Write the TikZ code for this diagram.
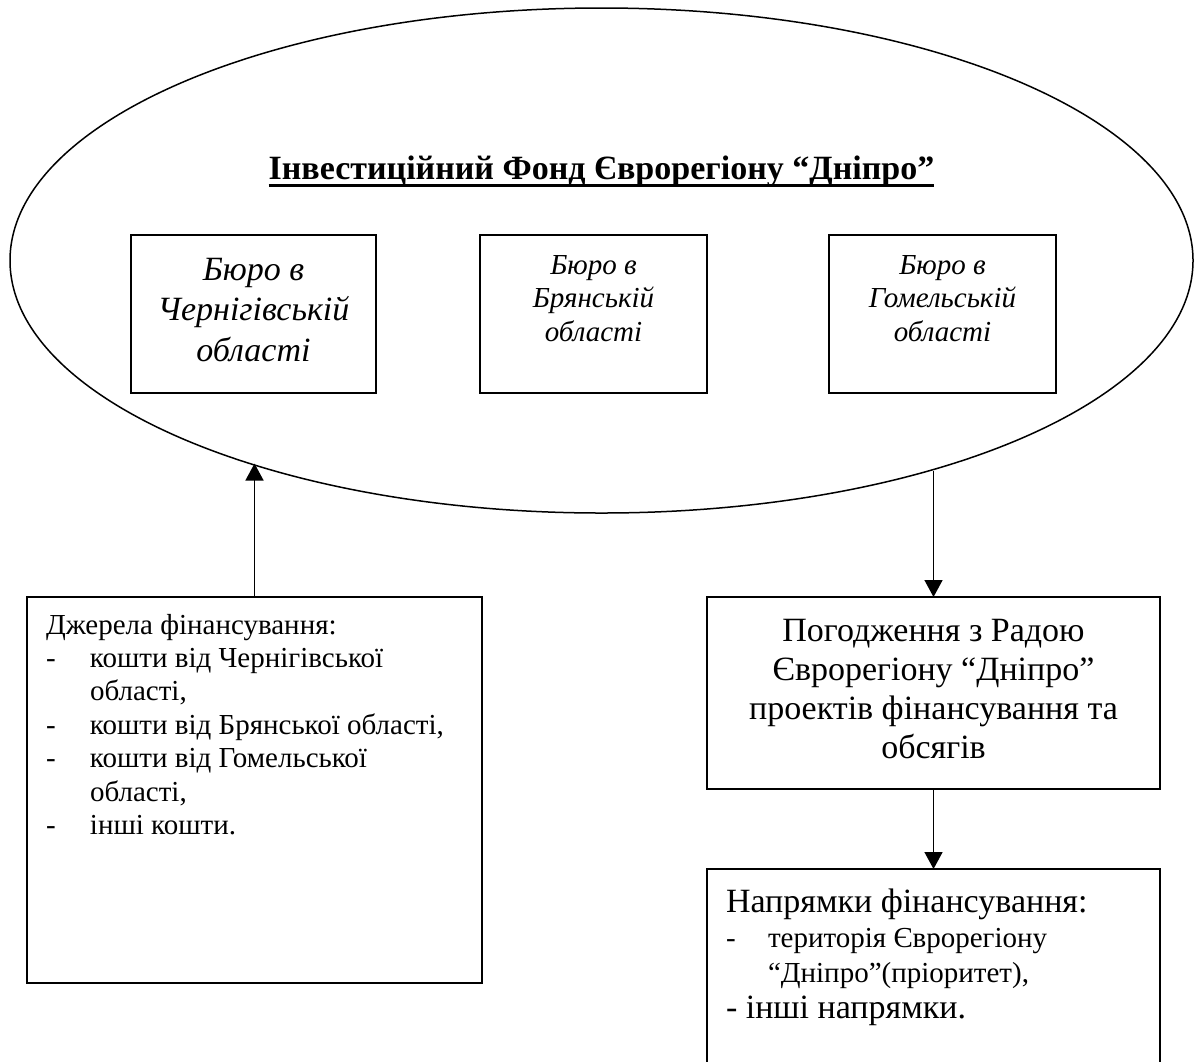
\documentclass[tikz,border=0pt]{standalone}
\usepackage{fontspec}
\setmainfont{Liberation Serif}
\usetikzlibrary{shapes.geometric,arrows.meta}
\newcommand\mylines[2]{\begin{tabular}[t]{@{}#1@{}}#2\end{tabular}}
\begin{document}
\begin{tikzpicture}[x=0.5pt,y=-0.5pt,
  box/.style={draw,line width=0.9pt,inner sep=0pt,outer sep=0pt,anchor=north west},
  arr/.style={line width=0.75pt,-{Triangle[width=9pt,length=8.5pt]}},
  txt/.style={inner sep=0pt,outer sep=0pt,anchor=base}]
\useasboundingbox (0,0) rectangle (1197,1061);
\clip (0,0) rectangle (1197,1061);
\node[draw,ellipse,line width=0.75pt,minimum width=591.5pt,minimum height=252.5pt,inner sep=0pt,outer sep=0pt] (fund) at (601.5,260.5) {};
\node[txt,font=\bfseries\fontsize{17}{20}\selectfont] (title) at (601.5,179) {Інвестиційний Фонд Єврорегіону “Дніпро”};
\draw[line width=1.5pt] ([yshift=-3pt]title.base west) -- ([yshift=-3pt]title.base east);
% bureau boxes
\node[box,minimum width=122.5pt,minimum height=79pt] (b1) at (131,235) {};
\node[box,minimum width=113.5pt,minimum height=79pt] (b2) at (480,235) {};
\node[box,minimum width=113.5pt,minimum height=79pt] (b3) at (829,235) {};
\node[txt,font=\itshape\fontsize{17}{20.25}\selectfont] (t1) at (253.5,280) {\mylines{c}{Бюро в\\Чернігівській\\області}};
\node[txt,font=\itshape\fontsize{14.5}{16.75}\selectfont] (t2) at (593.5,274) {\mylines{c}{Бюро в\\Брянській\\області}};
\node[txt,font=\itshape\fontsize{14.5}{16.75}\selectfont] (t3) at (942.5,274) {\mylines{c}{Бюро в\\Гомельській\\області}};
% sources box
\node[box,minimum width=227.5pt,minimum height=193pt] (src) at (27,597) {};
\node[txt,anchor=base west,font=\fontsize{14.5}{16.7}\selectfont] (srct) at (46,634) {\mylines{p{22pt}@{}l}{\multicolumn{2}{@{}l@{}}{Джерела фінансування:}\\-&кошти від Чернігівської\\&області,\\-&кошти від Брянської області,\\-&кошти від Гомельської\\&області,\\-&інші кошти.}};
% agreement box
\node[box,minimum width=226.5pt,minimum height=96pt] (agr) at (707,597) {};
\node[txt,font=\fontsize{17}{19.6}\selectfont] (agrt) at (933.5,641) {\mylines{c}{Погодження з Радою\\Єврорегіону “Дніпро”\\проектів фінансування та\\обсягів}};
% directions box (open below the page)
\node[box,minimum width=226.5pt,minimum height=110pt] (dir) at (707,869) {};
\node[txt,anchor=base west,font=\fontsize{17}{19.5}\selectfont] (dirh) at (726,912) {Напрямки фінансування:};
\node[txt,anchor=base west,font=\fontsize{14.5}{17.5}\selectfont] (dirl) at (726,947) {\mylines{p{21pt}@{}l}{-&територія Єврорегіону\\&“Дніпро”(пріоритет),}};
\node[txt,anchor=base west,font=\fontsize{17}{19.5}\selectfont] (dire) at (726,1018) {- інші напрямки.};
% connectors
\draw[arr] (src.north) -- (src.north |- fund.210.35);
\draw[arr] (agr.north |- fund.327.63) -- (agr.north);
\draw[arr] (agr.south) -- (dir.north);
\end{tikzpicture}
\end{document}
